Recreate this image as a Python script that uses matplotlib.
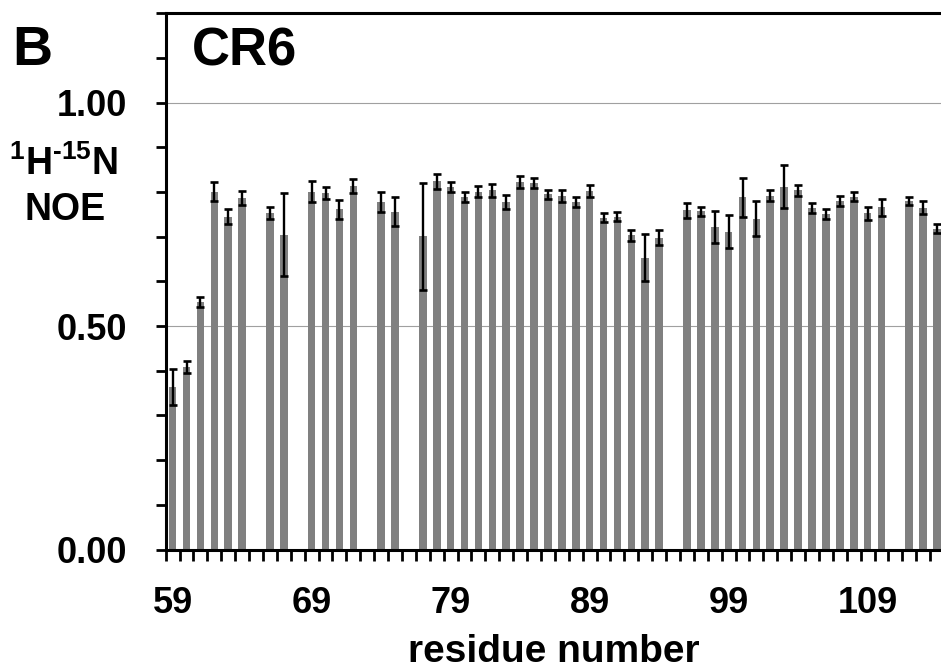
import numpy as np
import matplotlib
matplotlib.use('Agg')
import matplotlib.pyplot as plt
from matplotlib.ticker import MultipleLocator, FixedLocator

plt.rcParams['font.family'] = ['Liberation Sans', 'DejaVu Sans']
plt.rcParams['font.weight'] = 'bold'
plt.rcParams['mathtext.fontset'] = 'custom'
plt.rcParams['mathtext.rm'] = 'Liberation Sans'
plt.rcParams['mathtext.bf'] = 'Liberation Sans:bold'

# residuos com dados (faltam 65, 68, 73, 76, 95, 111)
residues = [59, 60, 61, 62, 63, 64, 66, 67, 69, 70, 71, 72, 74, 75,
            77, 78, 79, 80, 81, 82, 83, 84, 85, 86, 87, 88, 89, 90, 91, 92, 93, 94,
            96, 97, 98, 99, 100, 101, 102, 103, 104, 105, 106, 107, 108, 109, 110,
            112, 113, 114]
noe = [0.364, 0.409, 0.554, 0.801, 0.745, 0.787, 0.753, 0.704, 0.801, 0.798, 0.761, 0.813, 0.778, 0.756,
       0.701, 0.824, 0.812, 0.788, 0.801, 0.804, 0.778, 0.823, 0.820, 0.795, 0.791, 0.777, 0.803, 0.743,
       0.745, 0.703, 0.653, 0.698,
       0.759, 0.757, 0.722, 0.711, 0.788, 0.740, 0.792, 0.812, 0.804, 0.764, 0.751, 0.780, 0.789, 0.752,
       0.766, 0.781, 0.765, 0.718]
noe_err = [0.040, 0.013, 0.012, 0.021, 0.017, 0.016, 0.013, 0.093, 0.024, 0.013, 0.022, 0.016, 0.022, 0.032,
           0.120, 0.017, 0.011, 0.011, 0.013, 0.015, 0.016, 0.014, 0.011, 0.010, 0.013, 0.011, 0.013, 0.011,
           0.010, 0.012, 0.052, 0.016,
           0.016, 0.010, 0.035, 0.037, 0.043, 0.039, 0.013, 0.048, 0.012, 0.012, 0.012, 0.012, 0.010, 0.014,
           0.019, 0.009, 0.015, 0.010]
xtick_labels = [59, 69, 79, 89, 99, 109]
ytick_values = [0.0, 0.5, 1.0]

fig = plt.figure(figsize=(9.41, 6.71), dpi=100)
ax = fig.add_axes([165.7 / 941, 1 - 549.5 / 671, 1 - 165.7 / 941, (549.5 - 13.3) / 671])

ax.bar(residues, noe, width=0.55, color='#808080', zorder=2)
ax.errorbar(residues, noe, yerr=noe_err, fmt='none', ecolor='black',
            elinewidth=1.7, capsize=3.0, capthick=1.9, zorder=3)

ax.set_xlim(58.5, 114.28)
ax.set_ylim(0, 1.2)

ax.spines['right'].set_visible(False)
for s in ['left', 'bottom', 'top']:
    ax.spines[s].set_linewidth(2.2)

ax.set_axisbelow(True)
ax.yaxis.grid(True, which='major', color='#a0a0a0', linewidth=0.8)

ax.yaxis.set_major_locator(FixedLocator(ytick_values))
ax.yaxis.set_minor_locator(MultipleLocator(0.1))
ax.set_yticklabels(['%.2f' % v for v in ytick_values])
ax.tick_params(axis='y', which='major', length=7.5, width=2, pad=20, labelsize=26)
ax.tick_params(axis='y', which='minor', length=7, width=2)

ax.xaxis.set_major_locator(FixedLocator(xtick_labels))
ax.xaxis.set_minor_locator(FixedLocator(np.arange(58.5, 115, 1)))
ax.set_xticklabels([str(v) for v in xtick_labels])
ax.tick_params(axis='x', which='major', length=0, pad=26, labelsize=26)
ax.tick_params(axis='x', which='minor', length=8, width=2)

ax.set_xlabel('residue number', fontsize=28, fontweight='bold', labelpad=10)

# rotulo do eixo y, na horizontal
fig.text(63 / 941, 1 - 175 / 671, '$\\mathbf{^{1}H^{\u201015}N}$', fontsize=27,
         ha='center', va='baseline')
fig.text(65 / 941, 1 - 220 / 671, 'NOE', fontsize=27, fontweight='bold',
         ha='center', va='baseline')

fig.text(12 / 941, 1 - 65 / 671, 'B', fontsize=40, fontweight='bold', va='baseline')
fig.text(192 / 941, 1 - 65 / 671, 'CR6', fontsize=38, fontweight='bold', va='baseline')

plt.savefig('out.png', dpi=100)
